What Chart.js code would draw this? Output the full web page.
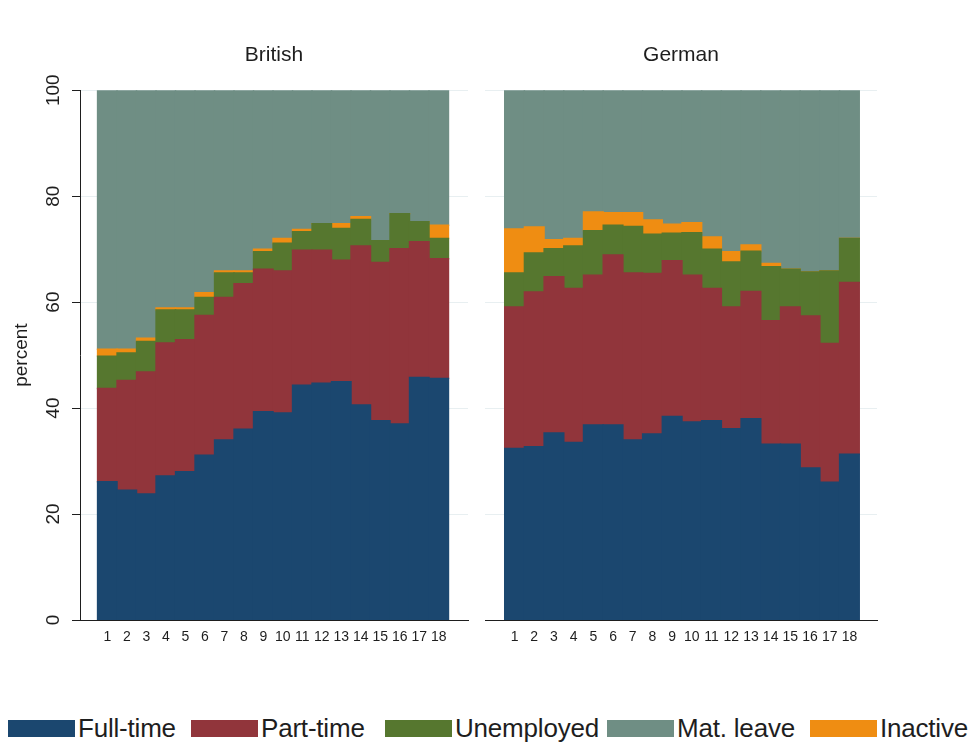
<!DOCTYPE html>
<html>
<head>
<meta charset="utf-8">
<title>Employment status by month</title>
<script src="https://cdn.jsdelivr.net/npm/chart.js@4/dist/chart.umd.min.js"></script>
<style>
  body { margin: 0; background: #fff; width: 968px; height: 742px; position: relative; overflow: hidden;
         font-family: "Liberation Sans", Arial, Helvetica, sans-serif; }
  #brit { position: absolute; left: 0; top: 0; }
  #ger { position: absolute; left: 478px; top: 0; }
  .key { position: absolute; top: 717px; height: 22px; display: flex; align-items: center;
         font-size: 26px; color: #1e1e1e; white-space: nowrap; letter-spacing: -0.2px; }
  .key i { display: block; width: 65px; height: 15px; margin-right: 3px; border: 1px solid; }
</style>
</head>
<body>
<canvas id="brit" width="476" height="660"></canvas>
<canvas id="ger" width="420" height="660"></canvas>
<div id="legend"></div>
<script>
// months since birth
const months = [1, 2, 3, 4, 5, 6, 7, 8, 9, 10, 11, 12, 13, 14, 15, 16, 17, 18];
const yTicks = [0, 20, 40, 60, 80, 100];

// British mothers, percent in each status
const britFull     = [26.1, 24.5, 23.8, 27.2, 28.0, 31.1, 34.0, 36.0, 39.3, 39.1, 44.3, 44.7, 45.0, 40.6, 37.6, 37.0, 45.8, 45.6];
const britPart     = [17.6, 20.7, 23.0, 25.1, 24.9, 26.4, 26.9, 27.5, 26.9, 26.8, 25.5, 25.1, 22.9, 30.0, 29.9, 33.1, 25.6, 22.6];
const britUnemp    = [6.1, 5.2, 5.8, 6.2, 5.6, 3.4, 4.6, 2.0, 3.3, 5.2, 3.5, 5.0, 6.0, 5.0, 4.1, 6.6, 3.8, 3.8];
const britInactive = [1.3, 0.7, 0.6, 0.4, 0.4, 0.9, 0.4, 0.4, 0.5, 0.9, 0.4, 0.0, 0.9, 0.5, 0.0, 0.0, 0.0, 2.5];
const britMatLeave = [48.9, 48.9, 46.8, 41.1, 41.1, 38.2, 34.1, 34.1, 30.0, 28.0, 26.3, 25.2, 25.2, 23.9, 28.4, 23.3, 24.8, 25.5];

// German mothers, percent in each status
const gerFull      = [32.4, 32.7, 35.3, 33.5, 36.8, 36.8, 34.0, 35.1, 38.4, 37.4, 37.6, 36.1, 38.0, 33.2, 33.2, 28.7, 26.0, 31.3];
const gerPart      = [26.7, 29.2, 29.5, 29.1, 28.3, 32.1, 31.5, 30.3, 29.4, 27.7, 25.0, 23.0, 24.0, 23.3, 25.9, 28.7, 26.2, 32.4];
const gerUnemp     = [6.4, 7.4, 5.3, 8.0, 8.4, 5.6, 8.8, 7.4, 5.2, 8.0, 7.4, 8.5, 7.6, 10.2, 7.1, 8.3, 13.7, 8.3];
const gerInactive  = [8.3, 4.9, 1.7, 1.4, 3.5, 2.4, 2.6, 2.7, 1.7, 1.9, 2.3, 1.9, 1.2, 0.6, 0.0, 0.0, 0.0, 0.0];
const gerMatLeave  = [26.2, 25.8, 28.2, 28.0, 23.0, 23.1, 23.1, 24.5, 25.3, 25.0, 27.7, 30.5, 29.2, 32.7, 33.8, 34.3, 34.1, 28.0];

const statusNames = ["Full-time", "Part-time", "Unemployed", "Mat. leave", "Inactive"];
const statusColors = {
  "Full-time": "#1b476f",
  "Part-time": "#91353b",
  "Unemployed": "#56772f",
  "Mat. leave": "#6f8e84",
  "Inactive": "#ef8d12"
};

Chart.defaults.font.family = '"Liberation Sans", Arial, Helvetica, sans-serif';
Chart.defaults.color = "#1e1e1e";

function points(values) {
  return values.map((v, i) => ({ x: months[i], y: v }));
}

// stacking order bottom to top
function buildDatasets(full, part, unemp, inactive, matLeave) {
  const series = [
    ["Full-time", full],
    ["Part-time", part],
    ["Unemployed", unemp],
    ["Inactive", inactive],
    ["Mat. leave", matLeave]
  ];
  return series.map(([name, vals]) => ({
    label: name,
    data: points(vals),
    backgroundColor: statusColors[name],
    borderWidth: 0,
    inflateAmount: 0.7, // hide hairline seams between touching bars
    barPercentage: 1,
    categoryPercentage: 1
  }));
}

function panelOptions(title, withAxis, xmin, xmax, padRight) {
  const yScale = {
    stacked: true,
    min: 0,
    max: 100,
    afterBuildTicks: s => { s.ticks = yTicks.map(v => ({ value: v })); },
    grid: { color: "#e8eff1", lineWidth: 1, drawTicks: withAxis, tickLength: 8, tickColor: "#1e1e1e" },
    border: { display: withAxis, color: "#1e1e1e", width: 1 },
    ticks: withAxis
      ? { display: true, minRotation: 90, maxRotation: 90, crossAlign: "center", padding: 2, font: { size: 19 } }
      : { display: false },
    title: withAxis
      ? { display: true, text: "percent", font: { size: 19 }, padding: { top: 10, bottom: 0 } }
      : { display: false },
    afterFit: s => { s.width = withAxis ? 80 : 7; }
  };
  return {
    responsive: false,
    animation: false,
    layout: { padding: { left: 0, right: padRight, top: 0, bottom: 0 } },
    plugins: {
      legend: { display: false },
      tooltip: { enabled: false },
      title: {
        display: true,
        text: title,
        fullSize: false,
        font: { size: 21, weight: "normal" },
        color: "#1e1e1e",
        padding: { top: 43, bottom: 22 }
      }
    },
    scales: {
      x: {
        type: "linear",
        stacked: true,
        min: xmin,
        max: xmax,
        offset: false,
        afterBuildTicks: s => { s.ticks = months.map(v => ({ value: v })); },
        ticks: { autoSkip: false, maxRotation: 0, minRotation: 0, font: { size: 14 }, padding: 9 },
        grid: { display: false, drawTicks: false },
        border: { display: true, color: "#1e1e1e", width: 1 },
        afterFit: s => { s.height = 40; }
      },
      y: yScale
    }
  };
}

new Chart(document.getElementById("brit"), {
  type: "bar",
  data: { datasets: buildDatasets(britFull, britPart, britUnemp, britInactive, britMatLeave) },
  options: panelOptions("British", true, -0.4, 19.5, 8)
});

new Chart(document.getElementById("ger"), {
  type: "bar",
  data: { datasets: buildDatasets(gerFull, gerPart, gerUnemp, gerInactive, gerMatLeave) },
  options: panelOptions("German", false, -0.5, 19.4, 21)
});

// legend row under both panels
const keyLeft = [8, 191, 385, 607, 810];
const legend = document.getElementById("legend");
statusNames.forEach((name, i) => {
  const item = document.createElement("div");
  item.className = "key";
  item.style.left = keyLeft[i] + "px";
  const sw = document.createElement("i");
  sw.style.background = statusColors[name];
  sw.style.borderColor = statusColors[name];
  item.appendChild(sw);
  item.appendChild(document.createTextNode(name));
  legend.appendChild(item);
});
</script>
</body>
</html>
